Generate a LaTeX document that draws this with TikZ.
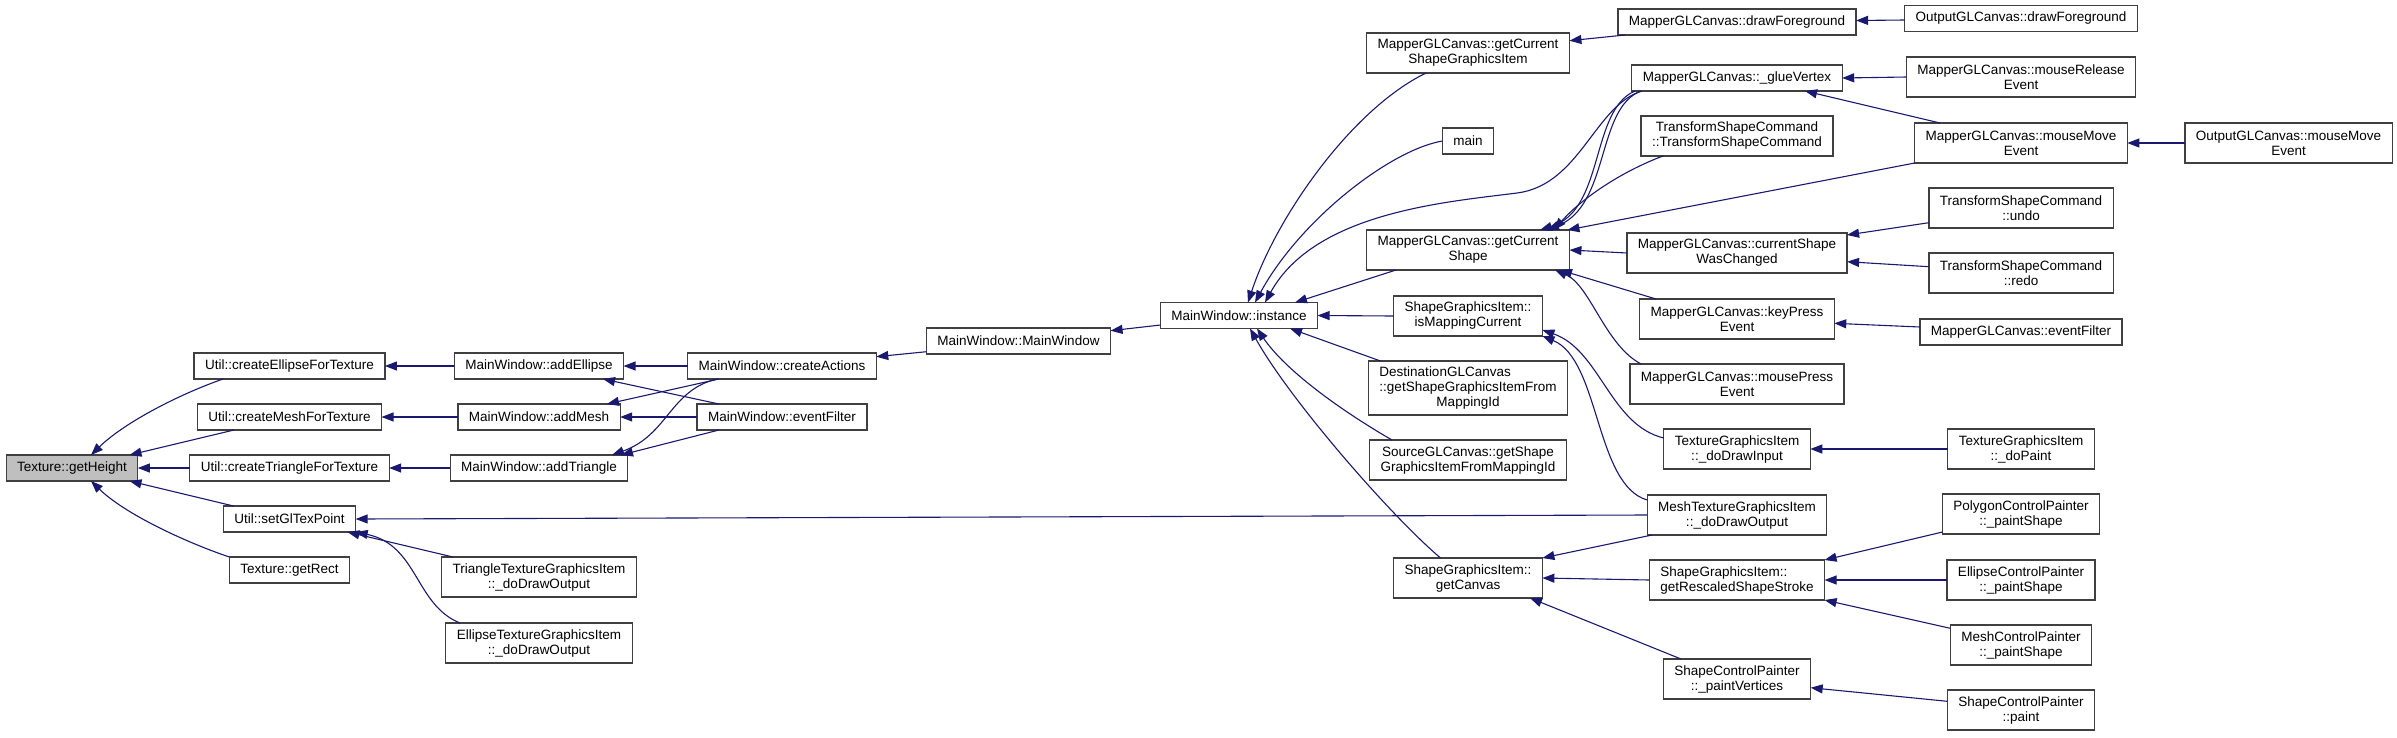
\documentclass[tikz,border=0pt]{standalone}
\usepackage{fontspec}
\setmainfont{Liberation Sans}
\usepackage{calc}
\usepackage{tikz}
\usetikzlibrary{arrows.meta, positioning}
\definecolor{colEdge}  {RGB}{25,25,112}
\definecolor{colBorder}{RGB}{64,64,64}
\definecolor{colRoot}  {RGB}{191,191,191}
\tikzset{
  base/.style      = {draw=colBorder, line width=1.3pt, fill=white, outer sep=0pt,
                      inner xsep=11pt, inner ysep=0pt, minimum height=26pt,
                      font=\fontsize{13.5}{15}\selectfont, align=center},
  rootbox/.style   = {base, fill=colRoot},
  twoline/.style   = {base, minimum height=40pt},
  threeline/.style = {base, minimum height=54pt},
  arr/.style       = {-{Triangle[length=12pt, width=9pt]}, draw=colEdge, line width=1.1pt},
}

\begin{document}
\begin{tikzpicture}[x=1pt, y=-1pt, node distance=25pt]
\useasboundingbox (0,0) rectangle (2397,737);

%% ── root ─────────────────────────────────────────────────────────────────────
\node[rootbox] (getHeight) at (72,468) {Texture::getHeight};

%% ── Util ─────────────────────────────────────────────────────────────────────
\node[base] (crEllipse) at (289.5,366) {Util::createEllipseForTexture};
\node[base, below=of crEllipse]  (crMesh)     {Util::createMeshForTexture};
\node[base, below=of crMesh]     (crTriangle) {Util::createTriangleForTexture};
\node[base, below=of crTriangle] (setGlTex)   {Util::setGlTexPoint};
\node[base, below=of setGlTex]   (getRect)    {Texture::getRect};

%% ── MainWindow ───────────────────────────────────────────────────────────────
\node[base] (addEllipse) at (539,366) {MainWindow::addEllipse};
\node[base, below=of addEllipse]  (addMesh)     {MainWindow::addMesh};
\node[base, below=of addMesh]     (addTriangle) {MainWindow::addTriangle};
\node[twoline, below=76pt of addTriangle] (triTGI)
  {TriangleTextureGraphicsItem\\::\_doDrawOutput};
\node[twoline, below=26pt of triTGI] (ellTGI)
  {EllipseTextureGraphicsItem\\::\_doDrawOutput};

\node[base] (createActions) at (782,366) {MainWindow::createActions};
\node[base, below=of createActions] (mwEventFilter) {MainWindow::eventFilter};

\node[base] (mainWindow) at (1018.5,341) {MainWindow::MainWindow};
\node[base] (instance)   at (1239,315.5) {MainWindow::instance};

%% ── callers of instance ──────────────────────────────────────────────────────
\node[twoline] (getCurShapeGI) at (1468,53)
  {MapperGLCanvas::getCurrent\\ShapeGraphicsItem};
\node[base, below=55pt of getCurShapeGI] (mainFn) {main};
\node[twoline, below=76pt of mainFn] (getCurShape)
  {MapperGLCanvas::getCurrent\\Shape};
\node[twoline, below=26pt of getCurShape] (isMapping)
  {ShapeGraphicsItem::\\isMappingCurrent};
\node[threeline, below=of isMapping] (destCanvas)
  {\makebox[\widthof{::getShapeGraphicsItemFrom}][l]{DestinationGLCanvas}\\
   ::getShapeGraphicsItemFrom\\MappingId};
\node[twoline, below=of destCanvas] (srcCanvas)
  {SourceGLCanvas::getShape\\GraphicsItemFromMappingId};
\node[twoline, below=78pt of srcCanvas] (getCanvas)
  {ShapeGraphicsItem::\\getCanvas};

%% ── MapperGLCanvas and friends ───────────────────────────────────────────────
\node[base] (mDrawFg) at (1737,22) {MapperGLCanvas::drawForeground};
\node[base, below=30pt of mDrawFg] (glueVertex) {MapperGLCanvas::\_glueVertex};
\node[twoline, below=of glueVertex] (tscCtor)
  {TransformShapeCommand\\::TransformShapeCommand};
\node[twoline, below=77pt of tscCtor] (shapeChanged)
  {MapperGLCanvas::currentShape\\WasChanged};
\node[twoline, below=26pt of shapeChanged] (keyPress)
  {MapperGLCanvas::keyPress\\Event};
\node[twoline, below=of keyPress] (mousePress)
  {MapperGLCanvas::mousePress\\Event};
\node[twoline, below=of mousePress] (doDrawInput)
  {TextureGraphicsItem\\::\_doDrawInput};
\node[twoline, below=26pt of doDrawInput] (meshTGI)
  {MeshTextureGraphicsItem\\::\_doDrawOutput};
\node[twoline, below=of meshTGI, align=left] (rescaled)
  {ShapeGraphicsItem::\\getRescaledShapeStroke};
\node[twoline, below=59pt of rescaled] (paintVertices)
  {ShapeControlPainter\\::\_paintVertices};

%% ── outer callers ────────────────────────────────────────────────────────────
\node[base] (oDrawFg) at (2021,18.5) {OutputGLCanvas::drawForeground};
\node[twoline, below=25.5pt of oDrawFg] (mouseRelease)
  {MapperGLCanvas::mouseRelease\\Event};
\node[twoline, below=26pt of mouseRelease] (mouseMove)
  {MapperGLCanvas::mouseMove\\Event};
\node[twoline, below=of mouseMove] (undo) {TransformShapeCommand\\::undo};
\node[twoline, below=of undo]      (redo) {TransformShapeCommand\\::redo};
\node[base, below=26pt of redo] (mEventFilter) {MapperGLCanvas::eventFilter};
\node[twoline, below=84pt of mEventFilter] (doPaint)
  {TextureGraphicsItem\\::\_doPaint};
\node[twoline, below=of doPaint] (polygonCP)
  {PolygonControlPainter\\::\_paintShape};
\node[twoline, below=26pt of polygonCP] (ellipseCP)
  {EllipseControlPainter\\::\_paintShape};
\node[twoline, below=of ellipseCP] (meshCP)
  {MeshControlPainter\\::\_paintShape};
\node[twoline, below=of meshCP] (scpPaint)
  {ShapeControlPainter\\::paint};

\node[twoline] (oMouseMove) at (2288.5,143) {OutputGLCanvas::mouseMove\\Event};

%% ── edges: Texture::getHeight ────────────────────────────────────────────────
\draw[arr] ([xshift=-66.5pt]crEllipse.south) .. controls (180,394) and (125,422)
  .. ([xshift=19pt]getHeight.north);
\draw[arr] ([xshift=-55.5pt]crMesh.south) -- ([xshift=57.5pt]getHeight.north);
\draw[arr] (crTriangle.west) -- (getHeight.east);
\draw[arr] ([xshift=-56pt]setGlTex.north) -- ([xshift=57.5pt]getHeight.south);
\draw[arr] (getRect.north west) .. controls (185,542) and (125,514)
  .. ([xshift=19pt]getHeight.south);

%% ── edges: Util ──────────────────────────────────────────────────────────────
\draw[arr] (addEllipse.west)  -- (crEllipse.east);
\draw[arr] (addMesh.west)     -- (crMesh.east);
\draw[arr] (addTriangle.west) -- (crTriangle.east);
\draw[arr] (meshTGI.west)     -- (setGlTex.east);
\draw[arr] ([xshift=-86pt]triTGI.north) -- ([xshift=58pt]setGlTex.south);
\draw[arr] ([xshift=-79pt]ellTGI.north) .. controls (415,605) and (418,545)
  .. (setGlTex.south east);

%% ── edges: MainWindow ────────────────────────────────────────────────────────
\draw[arr] (createActions.west) -- (addEllipse.east);
\draw[arr] ([xshift=-63pt]mwEventFilter.north) -- ([xshift=64pt]addEllipse.south);
\draw[arr] ([xshift=-63pt]createActions.south) -- ([xshift=68pt]addMesh.north);
\draw[arr] (mwEventFilter.west) -- (addMesh.east);
\draw[arr] ([xshift=-65pt]createActions.south) .. controls (670,390) and (668,435)
  .. ([xshift=73pt]addTriangle.north);
\draw[arr] ([xshift=-63pt]mwEventFilter.south) -- ([xshift=82pt]addTriangle.north);
\draw[arr] ([yshift=-10.7pt]mainWindow.west) -- ([yshift=9.3pt]createActions.east);
\draw[arr] ([yshift=-9.5pt]instance.west) -- ([yshift=10.3pt]mainWindow.east);

%% ── edges: MainWindow::instance ──────────────────────────────────────────────
\draw[arr] ([xshift=-42pt]getCurShapeGI.south) .. controls (1350,110) and (1275,220)
  .. ([xshift=9pt]instance.north);
\draw[arr] (mainFn.west) .. controls (1390,150) and (1300,220)
  .. ([xshift=16pt]instance.north);
\draw[arr] ([xshift=-95pt]glueVertex.south) .. controls (1595,105) and (1580,185)
  .. (1517,193) .. controls (1447,202) and (1315,212) .. ([xshift=26pt]instance.north);
\draw[arr] ([xshift=-72pt]getCurShape.south) -- ([xshift=56pt]instance.north);
\draw[arr] (isMapping.west) -- (instance.east);
\draw[arr] ([xshift=-87.5pt]destCanvas.north) -- ([xshift=51pt]instance.south);
\draw[arr] ([xshift=-76pt]srcCanvas.north) .. controls (1340,410) and (1285,370)
  .. ([xshift=18pt]instance.south);
\draw[arr] ([xshift=-27.5pt]getCanvas.north) .. controls (1390,515) and (1290,400)
  .. ([xshift=11pt]instance.south);

%% ── edges: getCurrentShape(GraphicsItem) ─────────────────────────────────────
\draw[arr] ([xshift=-112pt]mDrawFg.south) -- ([yshift=12.3pt]getCurShapeGI.east);
\draw[arr] ([yshift=-1.5pt]oDrawFg.west) -- ([yshift=1.5pt]mDrawFg.east);
\draw[arr] ([xshift=-102pt]glueVertex.south) .. controls (1590,110) and (1605,210)
  .. ([xshift=72pt]getCurShape.north);
\draw[arr] ([xshift=-96pt]glueVertex.south) .. controls (1596,108) and (1610,205)
  .. ([xshift=79pt]getCurShape.north);
\draw[arr] ([xshift=-74pt]tscCtor.south) .. controls (1620,172) and (1580,200)
  .. ([xshift=86pt]getCurShape.north);
\draw[arr] (mouseMove.south west) -- ([xshift=-2pt]getCurShape.north east);
\draw[arr] (shapeChanged.west) -- (getCurShape.east);
\draw[arr] ([xshift=-81pt]keyPress.north) -- ([xshift=92pt]getCurShape.south);
\draw[arr] ([xshift=-96pt]mousePress.north) .. controls (1605,345) and (1590,285)
  .. ([xshift=87pt]getCurShape.south);

%% ── edges: MapperGLCanvas ────────────────────────────────────────────────────
\draw[arr] (mouseRelease.west) -- (glueVertex.east);
\draw[arr] ([xshift=-81pt]mouseMove.north) -- ([xshift=68pt]glueVertex.south);
\draw[arr] (oMouseMove.west) -- (mouseMove.east);
\draw[arr] ([yshift=-14.7pt]undo.west) -- ([yshift=-2pt]shapeChanged.north east);
\draw[arr] ([yshift=6.3pt]redo.west) -- ([yshift=-8.7pt]shapeChanged.east);
\draw[arr] ([yshift=5pt]mEventFilter.west) -- ([yshift=-4.3pt]keyPress.east);

%% ── edges: isMappingCurrent, getCanvas ───────────────────────────────────────
\draw[arr] ([yshift=11pt]doDrawInput.west) .. controls (1610,425) and (1600,350)
  .. ([yshift=-14pt]isMapping.east);
\draw[arr] ([yshift=15pt]meshTGI.west) .. controls (1595,485) and (1600,360)
  .. (isMapping.south east);
\draw[arr] (doPaint.west) -- (doDrawInput.east);
\draw[arr] ([xshift=-85pt]meshTGI.south) -- (getCanvas.north east);
\draw[arr] (rescaled.west) -- (getCanvas.east);
\draw[arr] ([xshift=-56pt]paintVertices.north) -- ([xshift=62pt]getCanvas.south);
\draw[arr] ([yshift=-18pt]polygonCP.west) -- (rescaled.north east);
\draw[arr] (ellipseCP.west) -- (rescaled.east);
\draw[arr] ([yshift=16.7pt]meshCP.west) -- (rescaled.south east);
\draw[arr] ([yshift=8.7pt]scpPaint.west) -- ([yshift=-8.7pt]paintVertices.east);

\end{tikzpicture}
\end{document}
